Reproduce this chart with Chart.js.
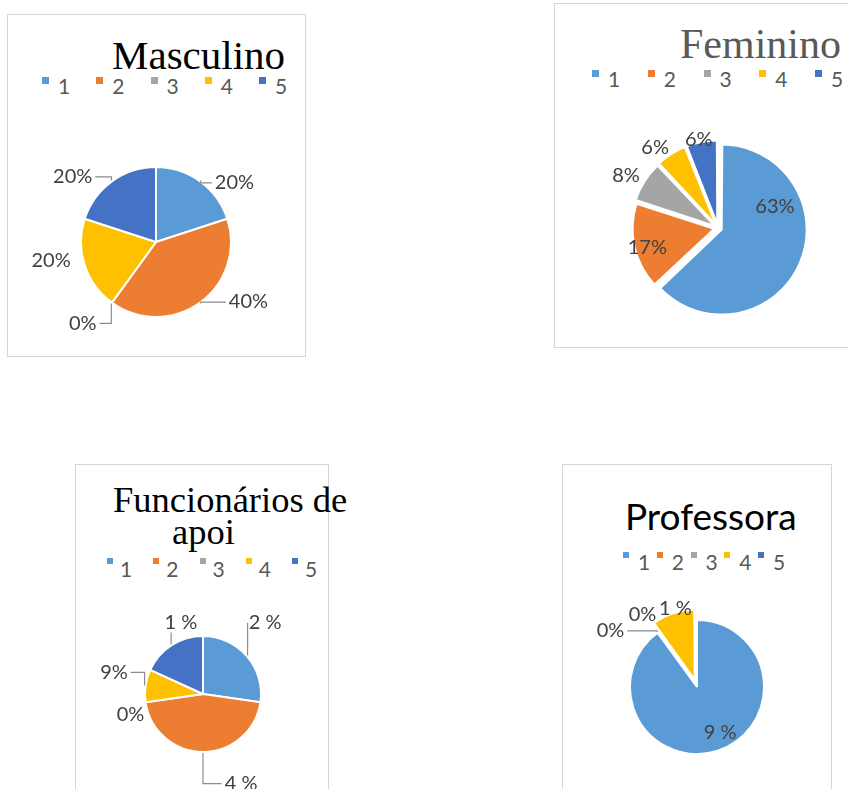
<!DOCTYPE html>
<html>
<head>
<meta charset="utf-8">
<script src="https://cdn.jsdelivr.net/npm/chart.js@4.4.0/dist/chart.umd.min.js"></script>
<style>
  html, body { margin: 0; padding: 0; background: #fff; width: 848px; height: 789px; overflow: hidden; position: relative; }
  .box { position: absolute; border: 1px solid #d6d6d6; }
  .title, .leg { position: absolute; white-space: nowrap; }
  .sq { position: absolute; }
  canvas { position: absolute; }
</style>
</head>
<body>
<script>
// categorias e valores
const categories = ['1', '2', '3', '4', '5'];
const colors = ['#5B9BD5', '#ED7D31', '#A5A5A5', '#FFC000', '#4472C4'];

const masculinoValues = [1, 2, 0, 1, 1];
const masculinoLabels = ['20%', '40%', '0%', '20%', '20%'];

const femininoValues = [63, 17, 8, 6, 6];
const femininoLabels = ['63%', '17%', '8%', '6%', '6%'];

const apoioValues = [3, 5, 0, 1, 2];
const apoioLabels = ['2 %', '4 %', '0%', '9%', '1 %'];

const professoraValues = [9, 0, 0, 1, 0];
const professoraLabels = ['9 %', '0%', '0%', '1 %', ''];

const fam = {
    serif: '"Liberation Serif", "Times New Roman", serif',
    sans: 'Lato, "Open Sans", sans-serif'
};
// distância do topo da linha (line-height 1) até a baseline
const ascent = { serif: 0.8375, sans: 0.887 };
const legendSize = 21;

// plugin simples para os rótulos de percentagem
const pieLabels = {
    id: 'pieLabels',
    afterDatasetsDraw(chart, args, opts) {
        const ctx = chart.ctx;
        const meta = chart.getDatasetMeta(0);
        ctx.save();
        ctx.font = opts.font;
        ctx.fillStyle = opts.color;
        ctx.strokeStyle = opts.lineColor;
        ctx.lineWidth = 1.2;
        ctx.textAlign = 'center';
        ctx.textBaseline = 'middle';
        meta.data.forEach((arc, i) => {
            const text = opts.texts[i];
            const spot = opts.spots[i];
            if (!text || !spot) return;
            const p = arc.getProps(['x', 'y', 'startAngle', 'endAngle', 'outerRadius', 'circumference'], true);
            const mid = (p.startAngle + p.endAngle) / 2;
            // mesmo deslocamento que o Chart.js aplica a uma fatia destacada
            const off = (arc.options.offset || 0) / 4;
            const fix = 1 - Math.sin(Math.min(Math.PI, p.circumference || 0));
            const shift = off * (1 + fix);
            const cx = p.x + Math.cos(mid) * shift;
            const cy = p.y + Math.sin(mid) * shift;
            const R = p.outerRadius;
            const a = mid + spot.da * Math.PI / 180;
            const lx = cx + Math.cos(a) * R * spot.f;
            const ly = cy + Math.sin(a) * R * spot.f;
            if (spot.line) {
                const ex = cx + Math.cos(mid) * (R + 1);
                const ey = cy + Math.sin(mid) * (R + 1);
                const w = ctx.measureText(text).width;
                const left = lx - w / 2, right = lx + w / 2;
                ctx.beginPath();
                ctx.moveTo(ex, ey);
                if (left >= ex - 2) {
                    ctx.lineTo(ex, ly);
                    ctx.lineTo(Math.max(ex, left - 3), ly);
                } else if (right <= ex + 2) {
                    ctx.lineTo(ex, ly);
                    ctx.lineTo(Math.min(ex, right + 3), ly);
                } else {
                    ctx.lineTo(ex, ly + Math.sign(ey - ly) * 10);
                }
                ctx.stroke();
            }
            ctx.fillText(text, lx, ly);
        });
        ctx.restore();
    }
};

const panels = [
    {
        title: [['Masculino', 112, 69]], titleSize: 41, titleFamily: 'serif', titleColor: '#000',
        box: [7, 14, 297, 341],
        legend: { x: 42, step: 54.25, top: 77, size: 7, gap: 16, base: 94 },
        center: [156, 242], radius: 75, offset: [0, 0, 0, 0, 0],
        values: masculinoValues, texts: masculinoLabels,
        spots: [
            { f: 1.31, da: 17, line: true },
            { f: 1.47, da: -21, line: true },
            { f: 1.46, da: 6, line: true },
            { f: 1.42, da: 8 },
            { f: 1.41, da: -16, line: true }
        ]
    },
    {
        title: [['Feminino', 680, 58]], titleSize: 42, titleFamily: 'serif', titleColor: '#595959',
        box: [554, 3, 300, 343],
        legend: { x: 592, step: 55.75, top: 70, size: 7, gap: 16, base: 87 },
        center: [718, 228], radius: 81, offset: [16, 16, 16, 16, 16],
        values: femininoValues, texts: femininoLabels,
        spots: [
            { f: 0.685, da: -50 },
            { f: 0.85, da: -3 },
            { f: 1.23, da: -3 },
            { f: 1.18, da: -6 },
            { f: 1.04, da: -1.5 }
        ]
    },
    {
        title: [['Funcionários de', 113, 513], ['apoi', 172, 545]], titleSize: 36.5, titleFamily: 'serif', titleColor: '#000',
        box: [75, 464, 252, 400],
        legend: { x: 107, step: 46.25, top: 558, size: 6, gap: 13, base: 577 },
        center: [203, 694], radius: 58, offset: [0, 0, 0, 0, 0],
        values: apoioValues, texts: apoioLabels,
        spots: [
            { f: 1.63, da: -8, line: true },
            { f: 1.68, da: -23, line: true },
            { f: 1.30, da: -8 },
            { f: 1.58, da: 5.5, line: true },
            { f: 1.29, da: 15.6, line: true }
        ]
    },
    {
        title: [['Professora', 625, 530]], titleSize: 37, titleFamily: 'sans', titleColor: '#000',
        box: [562, 464, 268, 400],
        legend: { x: 623, step: 33.75, top: 552, size: 6, gap: 15, base: 570 },
        center: [697, 687], radius: 67, offset: [0, 0, 0, 30, 0],
        values: professoraValues, texts: professoraLabels,
        spots: [
            { f: 0.76, da: -9 },
            { f: 1.54, da: -21, line: true },
            { f: 1.35, da: -1 },
            { f: 1.06, da: 3 },
            null
        ]
    }
];

function place(el, x, y) {
    el.style.left = x + 'px';
    el.style.top = y + 'px';
    document.body.appendChild(el);
}

panels.forEach(function (p) {
    var box = document.createElement('div');
    box.className = 'box';
    box.style.width = p.box[2] + 'px';
    box.style.height = p.box[3] + 'px';
    place(box, p.box[0], p.box[1]);

    p.title.forEach(function ([txt, x, base]) {
        var d = document.createElement('div');
        d.className = 'title';
        d.textContent = txt;
        d.style.font = p.titleSize + 'px ' + fam[p.titleFamily];
        d.style.lineHeight = '1';
        d.style.color = p.titleColor;
        place(d, x, base - ascent[p.titleFamily] * p.titleSize);
    });

    categories.forEach(function (c, i) {
        var x = p.legend.x + i * p.legend.step;
        var sq = document.createElement('div');
        sq.className = 'sq';
        sq.style.width = p.legend.size + 'px';
        sq.style.height = p.legend.size + 'px';
        sq.style.background = colors[i];
        place(sq, x, p.legend.top);
        var t = document.createElement('div');
        t.className = 'leg';
        t.textContent = c;
        t.style.font = legendSize + 'px ' + fam.sans;
        t.style.lineHeight = '1';
        t.style.color = '#595959';
        place(t, x + p.legend.gap, p.legend.base - ascent.sans * legendSize);
    });

    var canvas = document.createElement('canvas');
    canvas.width = 320;
    canvas.height = 320;
    place(canvas, p.center[0] - 160, p.center[1] - 160);

    new Chart(canvas.getContext('2d'), {
        type: 'pie',
        data: {
            labels: categories,
            datasets: [{
                data: p.values,
                backgroundColor: colors,
                borderColor: '#fff',
                borderWidth: 2,
                radius: p.radius,
                offset: p.offset,
                hoverOffset: 0
            }]
        },
        options: {
            responsive: false,
            animation: false,
            events: [],
            layout: { padding: 0 },
            plugins: {
                legend: { display: false },
                tooltip: { enabled: false },
                pieLabels: {
                    texts: p.texts,
                    spots: p.spots,
                    font: '20px Lato, "Open Sans", sans-serif',
                    color: '#404040',
                    lineColor: '#8c8c8c'
                }
            }
        },
        plugins: [pieLabels]
    });
});
</script>
</body>
</html>
